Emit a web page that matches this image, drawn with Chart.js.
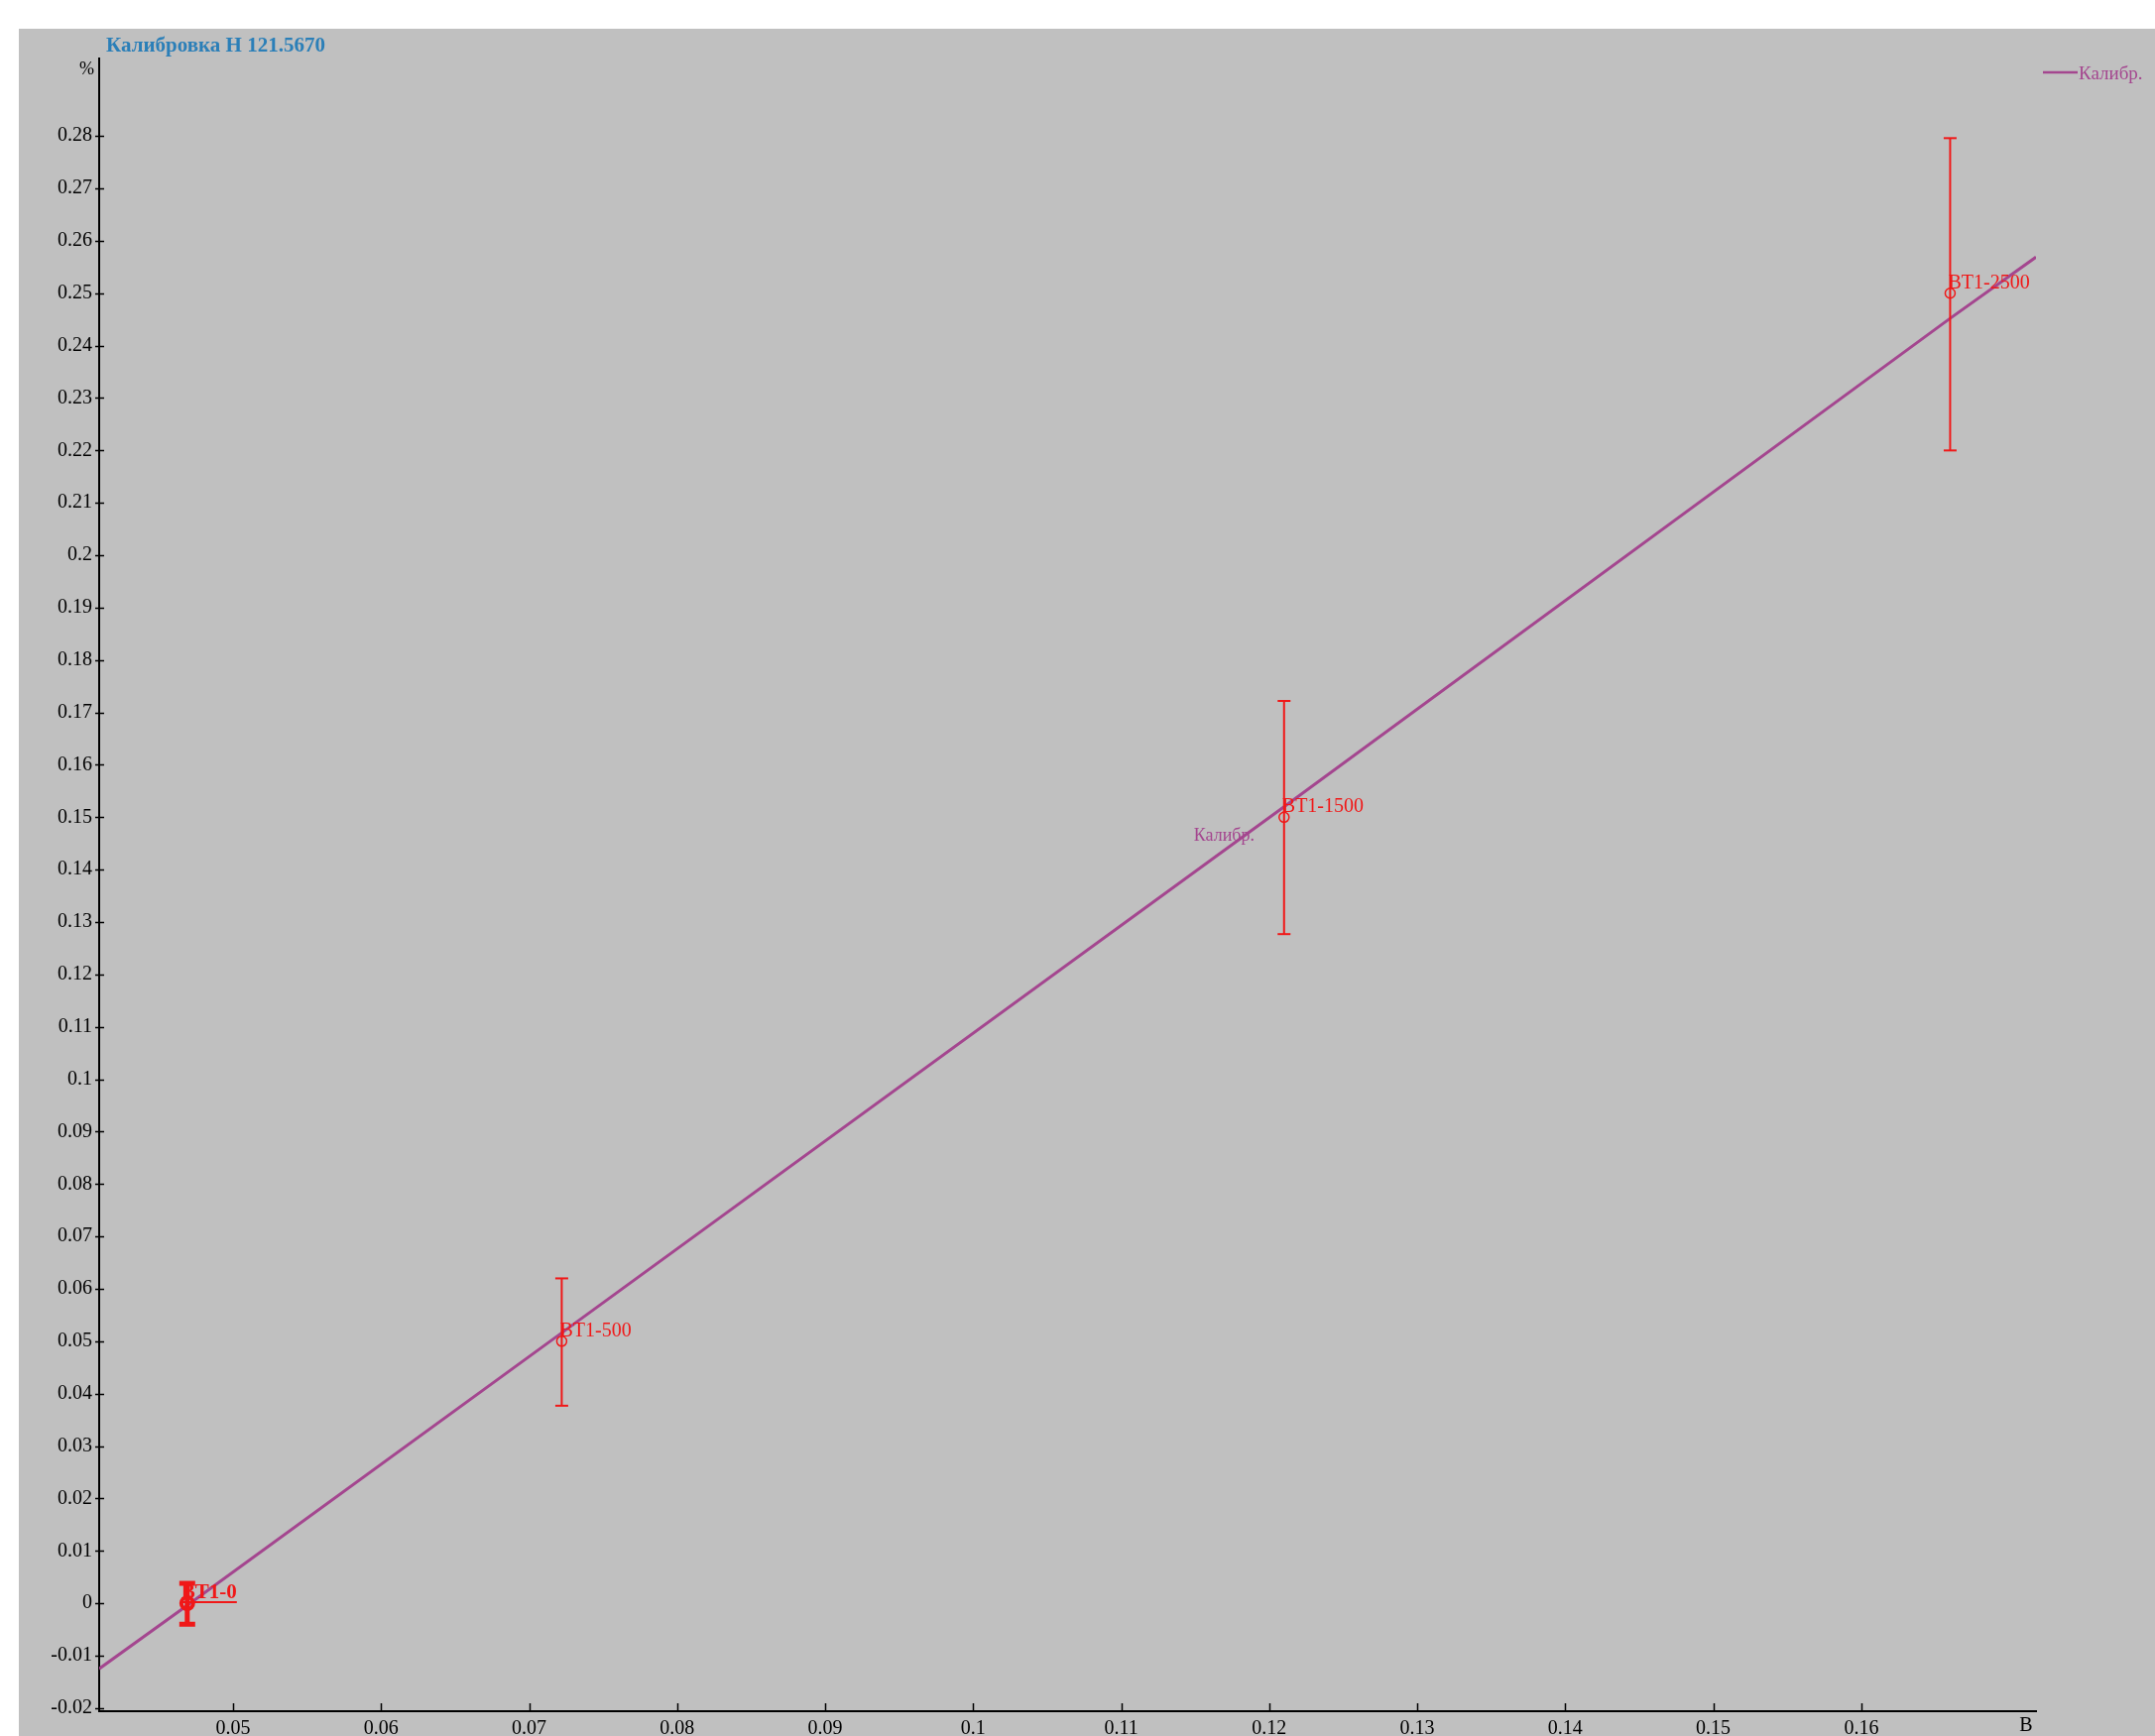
<!DOCTYPE html>
<html><head><meta charset="utf-8">
<script src="https://cdn.jsdelivr.net/npm/chart.js@4/dist/chart.umd.min.js"></script>
<style>
html,body{margin:0;padding:0;background:#fff;width:2173px;height:1751px;overflow:hidden;}
#wrap{position:absolute;left:19px;top:29px;width:2154px;height:1722px;background:#c0c0c0;}
canvas{display:block;}
</style></head><body>
<div id="wrap"><canvas id="c" width="2154" height="1722"></canvas></div>
<script>
// ---- data ----
const chartTitle = 'Калибровка Н 121.5670';
const yUnit = '%';
const xUnit = 'B';
const seriesName = 'Калибр.';

const pointNames = ['BT1-0', 'BT1-500', 'BT1-1500', 'BT1-2500'];
const pointX     = [0.0469, 0.0722, 0.1210, 0.1660];
const pointY     = [0.0000, 0.0500, 0.1500, 0.2500];
const errLow     = [-0.0040, 0.0377, 0.1277, 0.2200];
const errHigh    = [0.0038, 0.0620, 0.1722, 0.2796];

const lineX = [0.04095, 0.0469, 0.0722, 0.1210, 0.1660, 0.1718];
const lineY = [-0.0125, -0.0004, 0.0516, 0.1520, 0.2452, 0.2569];

const xMin = 0.04095, xMax = 0.1718;
const yMin = -0.0206, yMax = 0.2948;

const xTickValues = [0.05, 0.06, 0.07, 0.08, 0.09, 0.10, 0.11, 0.12, 0.13, 0.14, 0.15, 0.16];
const xTickLabels = ['0.05', '0.06', '0.07', '0.08', '0.09', '0.1', '0.11', '0.12', '0.13', '0.14', '0.15', '0.16'];
const yTickValues = [0.28, 0.27, 0.26, 0.25, 0.24, 0.23, 0.22, 0.21, 0.20, 0.19, 0.18, 0.17, 0.16, 0.15, 0.14, 0.13, 0.12, 0.11, 0.10, 0.09, 0.08, 0.07, 0.06, 0.05, 0.04, 0.03, 0.02, 0.01, 0, -0.01, -0.02];
const yTickLabels = ['0.28', '0.27', '0.26', '0.25', '0.24', '0.23', '0.22', '0.21', '0.2', '0.19', '0.18', '0.17', '0.16', '0.15', '0.14', '0.13', '0.12', '0.11', '0.1', '0.09', '0.08', '0.07', '0.06', '0.05', '0.04', '0.03', '0.02', '0.01', '0', '-0.01', '-0.02'];

// series label placed on the line
const lineLabelX = 0.1149, lineLabelY = 0.1455;
const highlighted = 0;

// ---- styles ----
const RED = '#f01818';
const PURPLE = '#a4468f';
const SERIF = '"Liberation Serif", "Times New Roman", serif';

const datasets = [];
datasets.push({
  type: 'line', label: seriesName,
  data: lineX.map((x, i) => ({x, y: lineY[i]})),
  borderColor: PURPLE, borderWidth: 3, pointRadius: 0, tension: 0, fill: false, order: 3
});
pointX.forEach((x, i) => {
  const hl = i === highlighted;
  datasets.push({
    type: 'line', label: pointNames[i] + ' err',
    data: [{x, y: errLow[i]}, {x, y: errHigh[i]}],
    borderColor: RED, borderWidth: hl ? 5 : 2, showLine: true,
    pointStyle: 'line', pointRadius: hl ? 8 : 6.5, pointBorderWidth: hl ? 5 : 2,
    pointBorderColor: RED, pointBackgroundColor: RED, order: 1
  });
});
datasets.push({
  type: 'scatter', label: 'points',
  data: pointX.map((x, i) => ({x, y: pointY[i]})),
  pointStyle: 'circle',
  pointRadius: pointX.map((_, i) => i === highlighted ? 6 : 5),
  pointBorderWidth: pointX.map((_, i) => i === highlighted ? 4 : 1.5),
  pointBorderColor: RED, pointBackgroundColor: 'rgba(0,0,0,0)', showLine: false, order: 0
});

const decor = {
  id: 'decor',
  afterDraw(chart) {
    const ctx = chart.ctx, xs = chart.scales.x, ys = chart.scales.y;
    ctx.save();
    // tick marks
    ctx.strokeStyle = '#000'; ctx.lineWidth = 1.5;
    xs.ticks.forEach(t => {
      const px = Math.round(xs.getPixelForValue(t.value)) + 0.5;
      ctx.beginPath(); ctx.moveTo(px, xs.top); ctx.lineTo(px, xs.top - 8); ctx.stroke();
    });
    ys.ticks.forEach(t => {
      const py = Math.round(ys.getPixelForValue(t.value)) + 0.5;
      ctx.beginPath(); ctx.moveTo(ys.right - 4, py); ctx.lineTo(ys.right + 5, py); ctx.stroke();
    });
    // title
    ctx.fillStyle = '#2b7fb8';
    ctx.font = 'bold 21px ' + SERIF;
    ctx.textAlign = 'left'; ctx.textBaseline = 'alphabetic';
    ctx.fillText(chartTitle, ys.right + 7, 23);
    // units
    ctx.fillStyle = '#000';
    ctx.font = '18px ' + SERIF;
    ctx.textAlign = 'right';
    ctx.fillText(yUnit, ys.right - 5, 46);
    ctx.font = '20px ' + SERIF;
    ctx.textAlign = 'center'; ctx.textBaseline = 'middle';
    ctx.fillText(xUnit, xs.right - 10, xs.top + 15);
    // legend
    const lg = chart.chartArea.right;
    ctx.strokeStyle = PURPLE; ctx.lineWidth = 2.5;
    ctx.beginPath(); ctx.moveTo(lg + 7, 44); ctx.lineTo(lg + 42, 44); ctx.stroke();
    ctx.fillStyle = PURPLE; ctx.font = '19px ' + SERIF;
    ctx.textAlign = 'left'; ctx.textBaseline = 'alphabetic';
    ctx.fillText(seriesName, lg + 43, 51);
    // series label on the line
    ctx.font = '18px ' + SERIF;
    ctx.fillText(seriesName, xs.getPixelForValue(lineLabelX), ys.getPixelForValue(lineLabelY));
    // point labels
    ctx.fillStyle = RED; ctx.strokeStyle = RED;
    pointNames.forEach((n, i) => {
      const px = xs.getPixelForValue(pointX[i]), py = ys.getPixelForValue(pointY[i]);
      if (i === highlighted) {
        ctx.font = 'bold 21px ' + SERIF;
        const w = ctx.measureText(n).width;
        ctx.fillText(n, px - 6, py - 5);
        ctx.lineWidth = 2;
        ctx.beginPath(); ctx.moveTo(px - 6, py - 1); ctx.lineTo(px - 6 + w, py - 1); ctx.stroke();
      } else {
        ctx.font = '20px ' + SERIF;
        ctx.fillText(n, px - 2, py - 5);
      }
    });
    ctx.restore();
  }
};

new Chart(document.getElementById('c'), {
  data: { datasets },
  plugins: [decor],
  options: {
    responsive: false, animation: false, events: [],
    layout: { padding: { left: 0, top: 30, right: 120, bottom: 0 } },
    plugins: { legend: { display: false }, tooltip: { enabled: false }, title: { display: false } },
    scales: {
      x: {
        type: 'linear', position: 'bottom', min: xMin, max: xMax,
        grid: { display: false, drawTicks: false },
        border: { display: true, color: '#000', width: 2 },
        ticks: { color: '#000', font: { family: SERIF, size: 20 }, padding: 6, maxRotation: 0, autoSkip: false,
                 callback: (v, i) => xTickLabels[i] },
        afterBuildTicks: s => { s.ticks = xTickValues.map(v => ({ value: v })); },
        afterFit: s => { s.height = 25; }
      },
      y: {
        type: 'linear', position: 'left', min: yMin, max: yMax,
        grid: { display: false, drawTicks: false },
        border: { display: true, color: '#000', width: 2 },
        ticks: { color: '#000', font: { family: SERIF, size: 20 }, padding: 7, autoSkip: false,
                 callback: (v, i) => yTickLabels[i] },
        afterBuildTicks: s => { s.ticks = yTickValues.map(v => ({ value: v })); },
        afterFit: s => { s.width = 81; }
      }
    }
  }
});
</script>
</body></html>
